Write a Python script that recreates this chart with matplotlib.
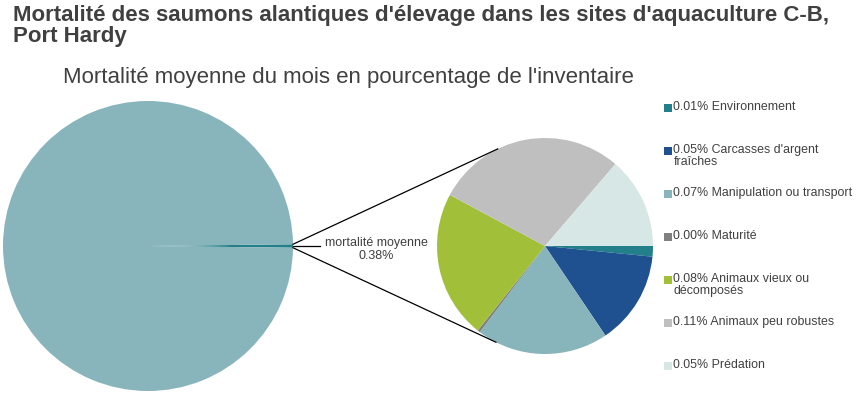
import math

import matplotlib

matplotlib.use("Agg")
import matplotlib.pyplot as plt

plt.rcParams["font.family"] = ["Liberation Sans", "DejaVu Sans"]

TEXT = "#404040"

# data (% of inventory)
causes = ["Environnement", "Carcasses d'argent\nfraîches", "Manipulation ou transport",
          "Maturité", "Animaux vieux ou\ndécomposés", "Animaux peu robustes", "Prédation"]
cause_labels = ["0.01%", "0.05%", "0.07%", "0.00%", "0.08%", "0.11%", "0.05%"]
cause_values = [0.006, 0.053, 0.075, 0.0015, 0.084, 0.108, 0.052]
cause_colors = ["#23808a", "#1f5190", "#88b4bc", "#808080", "#a2bf3a", "#bfbfbf", "#d7e7e6"]

total_mortality = 0.38
main_values = [total_mortality, 100 - total_mortality]
main_colors = ["#23808a", "#88b4bc"]

W, H = 862, 396

fig = plt.figure(figsize=(W / 100, H / 100), dpi=100)
ax = fig.add_axes([0, 0, 1, 1])

big_c, big_r = (148, H - 246), 145
small_c, small_r = (545, H - 246), 108

half = main_values[0] / sum(main_values) * 360 / 2
ax.pie(main_values, colors=main_colors, center=big_c, radius=big_r,
       startangle=half, counterclock=False, wedgeprops=dict(linewidth=0))
ax.pie(cause_values, colors=cause_colors, center=small_c, radius=small_r,
       startangle=0, counterclock=False, wedgeprops=dict(linewidth=0))

ax.set_xlim(0, W)
ax.set_ylim(0, H)
ax.set_aspect("equal")
ax.axis("off")

# connector lines between the two pies
for sgn, ang in [(1, 116), (-1, -117)]:
    x0 = big_c[0] + big_r * math.cos(math.radians(half))
    y0 = big_c[1] + sgn * big_r * math.sin(math.radians(half))
    x1 = small_c[0] + small_r * math.cos(math.radians(ang))
    y1 = small_c[1] + small_r * math.sin(math.radians(ang))
    ax.plot([x0, x1], [y0, y1], color="black", lw=0.9)

x0 = big_c[0] + big_r
ax.plot([x0, x0 + 27], [big_c[1], big_c[1]], color="black", lw=0.9)
ax.text(376, H - 249.5, f"mortalité moyenne\n{total_mortality:.2f}%", ha="center", va="center",
        fontsize=9, color=TEXT, linespacing=1.1)

# legend
for i, (lab, val, col) in enumerate(zip(causes, cause_labels, cause_colors)):
    ytop = H - 101 - i * 43
    ax.scatter([668.5], [ytop - 6.5], marker="s", s=27, color=col, linewidths=0)
    ax.text(673.5, ytop, f"{val} {lab}", ha="left", va="top", fontsize=8.9,
            color=TEXT, linespacing=1.0)

fig.text(13 / W, 1 - 5 / H, "Mortalité des saumons alantiques d'élevage dans les sites d'aquaculture C-B,\nPort Hardy",
         ha="left", va="top", fontsize=16, fontweight="bold", color=TEXT, linespacing=1.0)
fig.text(348 / W, 1 - 78 / H, "Mortalité moyenne du mois en pourcentage de l'inventaire",
         ha="center", va="center", fontsize=16, color=TEXT)

fig.savefig("out.png", dpi=100)
